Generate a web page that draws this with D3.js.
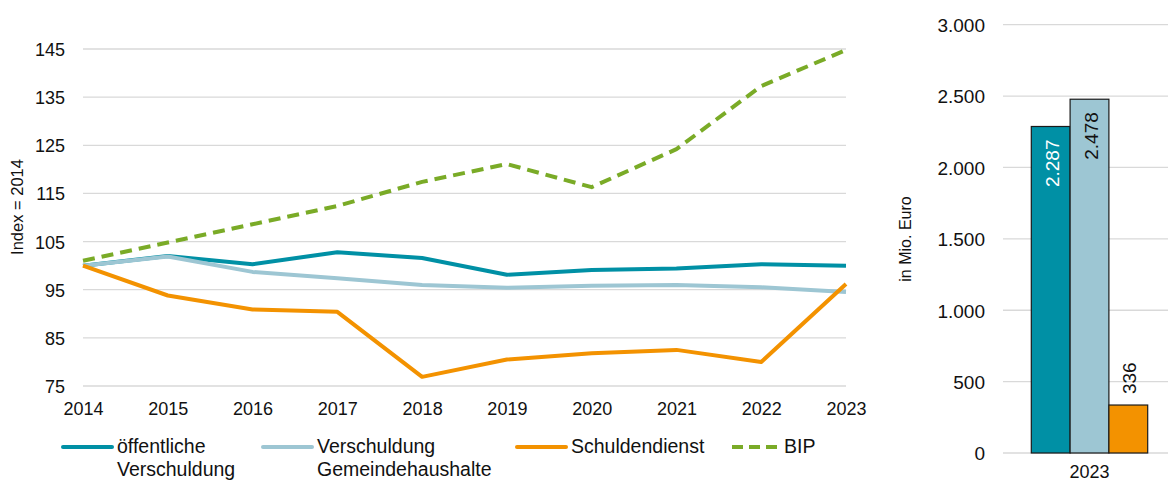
<!DOCTYPE html>
<html>
<head>
<meta charset="utf-8">
<script src="https://cdn.jsdelivr.net/npm/d3@7"></script>
<style>
  body { margin: 0; background: #fff; }
  text { font-family: "Liberation Sans", Arial, sans-serif; fill: #111; }
</style>
</head>
<body>
<div id="chart"></div>
<script>
// Index series 2014-2023 plus the 2023 totals in Mio. Euro

var years = [2014, 2015, 2016, 2017, 2018, 2019, 2020, 2021, 2022, 2023];
var oeffVerschuldung = [100, 102, 100.3, 102.8, 101.6, 98.1, 99.1, 99.4, 100.3, 100.0];
var gemeindeVerschuldung = [100, 101.9, 98.7, 97.4, 96.0, 95.4, 95.8, 96.0, 95.5, 94.5];
var schuldendienst = [100, 93.8, 90.9, 90.4, 76.9, 80.5, 81.8, 82.5, 80.0, 96.2];
var bip = [101.0, 104.8, 108.6, 112.4, 117.4, 121.1, 116.3, 124.2, 137.3, 144.8];
var indexTicks = [75, 85, 95, 105, 115, 125, 135, 145];

var barCategories = ["öffentliche Verschuldung", "Verschuldung Gemeindehaushalte", "Schuldendienst"];
var barValues = [2287, 2478, 336];
var barTicks = [0, 500, 1000, 1500, 2000, 2500, 3000];
var barYear = "2023";

var colors = ["#0090a5", "#9dc6d3", "#f39200", "#7aab27"];

var W = 1168, H = 481;
var svg = d3.select("#chart").append("svg")
    .attr("width", W)
    .attr("height", H);

var fmt = d3.formatLocale({decimal: ",", thousands: ".", grouping: [3], currency: ["", "€"]}).format(",d");

////////// line chart //////////
var x = d3.scalePoint().domain(years).range([83, 846]);
var y = d3.scaleLinear().domain([75, 145]).range([386, 49]);

// grid
svg.append("g").selectAll("line")
    .data(indexTicks)
    .enter().append("line")
    .attr("x1", 83).attr("x2", 846)
    .attr("y1", function(d){ return y(d); })
    .attr("y2", function(d){ return y(d); })
    .attr("stroke", "#d9d9d9")
    .attr("stroke-width", 1.3);

var yAxis = svg.append("g")
    .attr("transform", "translate(83,0)")
    .call(d3.axisLeft(y).tickValues(indexTicks).tickSize(0).tickPadding(18));
yAxis.select(".domain").remove();
yAxis.selectAll("text").attr("font-size", 18).attr("font-family", null).attr("dy", "0.36em");

var xAxis = svg.append("g")
    .attr("transform", "translate(0,386)")
    .call(d3.axisBottom(x).tickSize(0).tickPadding(16).tickFormat(d3.format("d")));
xAxis.select(".domain").remove();
xAxis.selectAll("text").attr("font-size", 18).attr("font-family", null);

svg.append("text")
    .attr("transform", "translate(23,207) rotate(-90)")
    .attr("text-anchor", "middle")
    .attr("font-size", 16.5)
    .text("Index = 2014");

var series = [
    {name: ["öffentliche", "Verschuldung"], values: oeffVerschuldung, color: colors[0], dash: null},
    {name: ["Verschuldung", "Gemeindehaushalte"], values: gemeindeVerschuldung, color: colors[1], dash: null},
    {name: ["Schuldendienst"], values: schuldendienst, color: colors[2], dash: null},
    {name: ["BIP"], values: bip, color: colors[3], dash: "12,7"}
];

var line = d3.line()
    .x(function(d, i){ return x(years[i]); })
    .y(function(d){ return y(d); });

svg.append("g").selectAll("path")
    .data(series)
    .enter().append("path")
    .attr("d", function(d){ return line(d.values); })
    .attr("fill", "none")
    .attr("stroke", function(d){ return d.color; })
    .attr("stroke-width", 4)
    .attr("stroke-linejoin", "round")
    .attr("stroke-dasharray", function(d){ return d.dash; });

// legend
var legendX = [63, 263, 517, 732];
var legend = svg.append("g").selectAll("g")
    .data(series)
    .enter().append("g")
    .attr("transform", function(d, i){ return "translate(" + legendX[i] + ",447)"; });

legend.append("line")
    .attr("x1", 0).attr("x2", function(d){ return d.dash ? 45 : 49; })
    .attr("y1", 0).attr("y2", 0)
    .attr("stroke", function(d){ return d.color; })
    .attr("stroke-width", 4)
    .attr("stroke-linecap", function(d){ return d.dash ? "butt" : "round"; })
    .attr("stroke-dasharray", function(d){ return d.dash ? "11,6" : null; });

legend.append("text")
    .attr("x", function(d){ return d.dash ? 52 : 54; })
    .attr("y", 6)
    .attr("font-size", 19.5)
    .selectAll("tspan")
    .data(function(d){ return d.name; })
    .enter().append("tspan")
    .attr("x", function(){ return d3.select(this.parentNode).attr("x"); })
    .attr("dy", function(d, i){ return i === 0 ? 0 : 23; })
    .text(function(d){ return d; });

////////// bar chart //////////
var yb = d3.scaleLinear().domain([0, 3000]).range([453, 24.7]);
var xb = d3.scaleBand().domain(barCategories).range([1031.3, 1147.7]).padding(0);

svg.append("g").selectAll("line")
    .data(barTicks)
    .enter().append("line")
    .attr("x1", 1003).attr("x2", 1168)
    .attr("y1", function(d){ return yb(d); })
    .attr("y2", function(d){ return yb(d); })
    .attr("stroke", "#d9d9d9")
    .attr("stroke-width", 1.3);

var ybAxis = svg.append("g")
    .attr("transform", "translate(1003,0)")
    .call(d3.axisLeft(yb).tickValues(barTicks).tickSize(0).tickPadding(18).tickFormat(fmt));
ybAxis.select(".domain").remove();
ybAxis.selectAll("text").attr("font-size", 19).attr("font-family", null).attr("dy", "0.36em");

svg.append("text")
    .attr("transform", "translate(911,239) rotate(-90)")
    .attr("text-anchor", "middle")
    .attr("font-size", 16)
    .text("in Mio. Euro");

svg.append("g").selectAll("rect")
    .data(barValues)
    .enter().append("rect")
    .attr("x", function(d, i){ return xb(barCategories[i]); })
    .attr("y", function(d){ return yb(d); })
    .attr("width", xb.bandwidth())
    .attr("height", function(d){ return yb(0) - yb(d); })
    .attr("fill", function(d, i){ return colors[i]; })
    .attr("stroke", "#1a1a1a")
    .attr("stroke-width", 1.2);

// value labels, rotated; the small bar gets its label above
svg.append("g").selectAll("text")
    .data(barValues)
    .enter().append("text")
    .attr("transform", function(d, i){
        var cx = xb(barCategories[i]) + xb.bandwidth() / 2;
        var ty = i === 2 ? yb(d) - 11 : yb(d) + 13;
        return "translate(" + (cx + 8) + "," + ty + ") rotate(-90)";
    })
    .attr("text-anchor", function(d, i){ return i === 2 ? "start" : "end"; })
    .attr("font-size", 19)
    .style("fill", function(d, i){ return i === 0 ? "#ffffff" : "#111"; })
    .text(function(d){ return fmt(d); });

svg.append("text")
    .attr("x", (xb.range()[0] + xb.range()[1]) / 2)
    .attr("y", 478)
    .attr("text-anchor", "middle")
    .attr("font-size", 18)
    .text(barYear);
</script>
</body>
</html>
